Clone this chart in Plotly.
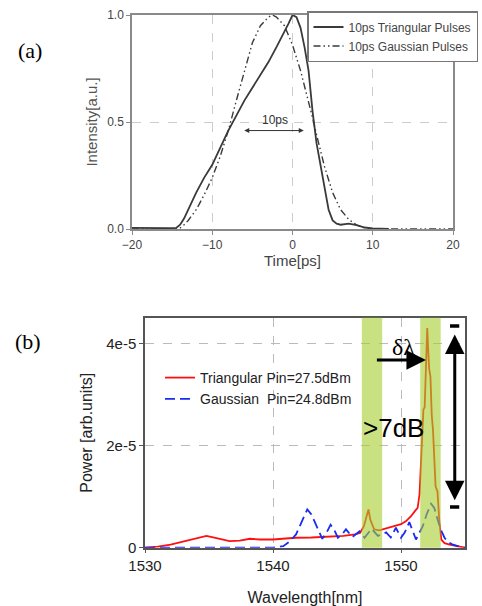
import plotly.graph_objects as go

# ---------------- Panel (a) data ----------------
t_tri = [-20, -17, -15.5, -14.5, -14, -13.5, -13, -12.5, -12, -11, -10, -9, -8, -7, -6, -5, -4, -3, -2, -1,
         -0.5, 0, 0.5, 1, 1.5, 2, 2.5, 3, 3.5, 4, 4.5, 5, 5.5, 6, 7, 8, 9, 10, 11, 12]
i_tri = [0.005, 0.002, 0.004, 0.005, 0.02, 0.05, 0.09, 0.13, 0.17, 0.24, 0.30, 0.38, 0.46, 0.53, 0.60, 0.66,
         0.72, 0.78, 0.85, 0.92, 0.96, 1.0, 0.99, 0.94, 0.85, 0.74, 0.55, 0.40, 0.29, 0.18, 0.09, 0.04, 0.025,
         0.02, 0.025, 0.018, 0.007, 0.003, 0.003, 0.0]

t_gau = [-20, -14.5, -14, -13.5, -13, -12, -11, -10, -9, -8, -7, -6, -5, -4, -3, -2.5, -2, -1, 0, 1, 2,
         2.5, 3, 4, 5, 6, 7, 8, 9, 10, 20]
i_gau = [0.0, 0.0, 0.005, 0.02, 0.04, 0.09, 0.16, 0.24, 0.34, 0.46, 0.60, 0.74, 0.87, 0.95, 0.99, 1.0, 0.99,
         0.95, 0.86, 0.74, 0.60, 0.52, 0.44, 0.29, 0.17, 0.09, 0.045, 0.018, 0.005, 0.0, 0.0]

a_xticks = [-20, -10, 0, 10, 20]
a_yticks = [0.0, 0.5, 1.0]

# ---------------- Panel (b) data ----------------
wl_tri = [1530, 1531, 1532, 1532.7, 1533.5, 1534.2, 1534.8, 1535.5, 1536.6, 1537.4, 1538.2, 1539, 1540,
          1541, 1541.8, 1543, 1544.4, 1545.5, 1546.4, 1546.8, 1547.1, 1547.3, 1547.46, 1547.6, 1547.9,
          1548.3, 1548.6, 1549.1, 1549.6, 1550.0, 1550.4, 1550.8, 1551.1, 1551.3, 1551.45, 1551.55,
          1551.65, 1551.75, 1551.85, 1551.95, 1552.05, 1552.12, 1552.2, 1552.3, 1552.4, 1552.5, 1552.6,
          1552.7, 1552.85, 1553.0, 1553.15, 1553.4, 1553.8, 1554.2, 1554.6, 1555]
p_tri = [0.0, 2e-7, 6e-7, 1.0e-6, 1.5e-6, 2.0e-6, 2.3e-6, 1.9e-6, 1.3e-6, 1.4e-6, 1.75e-6, 1.6e-6, 1.6e-6,
         1.8e-6, 1.95e-6, 2.0e-6, 2.1e-6, 2.3e-6, 2.6e-6, 2.9e-6, 4.2e-6, 6.2e-6, 7.5e-6, 5.5e-6, 3.6e-6,
         3.4e-6, 3.6e-6, 3.9e-6, 4.2e-6, 4.6e-6, 5.2e-6, 6.2e-6, 7.2e-6, 7.8e-6, 1.05e-5, 1.6e-5,
         2.2e-5, 2.7e-5, 2.75e-5, 3.4e-5, 4.3e-5, 3.9e-5, 3.5e-5, 3.35e-5, 2.6e-5, 2.3e-5, 1.6e-5,
         1.2e-5, 1.1e-5, 5.0e-6, 1.6e-6, 9e-7, 6e-7, 4e-7, 1.5e-7, 0.0]

wl_gau = [1530, 1540, 1540.8, 1541.3, 1541.8, 1542.3, 1542.68, 1543.0, 1543.4, 1543.85, 1544.2, 1544.5,
          1544.8, 1545.07, 1545.4, 1545.7, 1546.2, 1546.76, 1547.15, 1547.7, 1548.2, 1548.84, 1549.2,
          1549.6, 1550.0, 1550.3, 1550.65, 1551.17, 1551.7, 1552.0, 1552.35, 1552.6, 1552.86, 1553.1,
          1553.4, 1553.7, 1554.0, 1554.4, 1554.8, 1555]
p_gau = [0.0, 0.0, 3e-7, 1.2e-6, 2.6e-6, 5.2e-6, 7.5e-6, 6.5e-6, 4.2e-6, 1.75e-6, 3.0e-6, 4.5e-6, 3.4e-6,
         1.95e-6, 2.6e-6, 3.6e-6, 2.1e-6, 3.2e-6, 1.95e-6, 3.7e-6, 2.3e-6, 3.0e-6, 2.0e-6, 3.9e-6,
         1.95e-6, 3.0e-6, 5.0e-6, 1.6e-6, 4.2e-6, 6.5e-6, 8.6e-6, 7.8e-6, 5.5e-6, 3.6e-6, 1.95e-6,
         1.1e-6, 6.5e-7, 2.5e-7, 0.0, 0.0]

b_xticks = [1530, 1540, 1550]
b_yticks = [0, 2e-5, 4e-5]
b_yticktext = ["0", "2e-5", "4e-5"]

band_ranges = [(1546.94, 1548.53), (1551.5, 1553.1)]

SANS = "Liberation Sans, Arial, sans-serif"
SERIF = "Liberation Serif, Times New Roman, serif"
W, H = 482, 606

fig = go.Figure()

fig.add_trace(go.Scatter(x=t_tri, y=i_tri, mode="lines", name="10ps Triangular Pulses",
                         line=dict(color="#3a3a3a", width=1.8), xaxis="x", yaxis="y", legend="legend"))
fig.add_trace(go.Scatter(x=t_gau, y=i_gau, mode="lines", name="10ps Gaussian Pulses",
                         line=dict(color="#3a3a3a", width=1.4, dash="7px,3px,1.5px,3px,1.5px,3px"),
                         xaxis="x", yaxis="y", legend="legend"))

fig.add_trace(go.Scatter(x=wl_tri, y=p_tri, mode="lines", name="Triangular Pin=27.5dBm",
                         line=dict(color="#ff1010", width=1.8), xaxis="x2", yaxis="y2", legend="legend2"))
fig.add_trace(go.Scatter(x=wl_gau, y=p_gau, mode="lines", name="Gaussian\u00a0\u00a0Pin=24.8dBm",
                         line=dict(color="#1a2cf0", width=1.8, dash="10px,5px"), xaxis="x2", yaxis="y2",
                         legend="legend2"))

shapes = []
for x0, x1 in band_ranges:
    shapes.append(dict(type="rect", xref="x2", yref="y2 domain", x0=x0, x1=x1, y0=0, y1=1,
                       fillcolor="rgb(165,205,45)", opacity=0.6, line=dict(width=0), layer="above"))
for yv in [4.34e-5, 7.96e-6]:
    shapes.append(dict(type="line", xref="x2", yref="y2", x0=1553.83, x1=1554.55, y0=yv, y1=yv,
                       line=dict(color="black", width=3.5), layer="above"))

annotations = [
    dict(text="(a)", x=30 / W, y=1 - 50 / H, xref="paper", yref="paper", showarrow=False,
         xanchor="center", yanchor="middle", font=dict(family=SERIF, size=22, color="black")),
    dict(text="(b)", x=28 / W, y=1 - 342 / H, xref="paper", yref="paper", showarrow=False,
         xanchor="center", yanchor="middle", font=dict(family=SERIF, size=22, color="black")),
    dict(x=1.4, y=0.46, ax=-6.2, ay=0.46, xref="x", yref="y", axref="x", ayref="y", text="",
         showarrow=True, arrowhead=2, arrowside="end+start", arrowsize=1, arrowwidth=1, arrowcolor="#333"),
    dict(text="10ps", x=-2.2, y=0.51, xref="x", yref="y", showarrow=False,
         font=dict(family=SANS, size=12, color="#333")),
    dict(text=">7dB", x=1549.4, y=2.35e-5, xref="x2", yref="y2", showarrow=False,
         font=dict(family=SANS, size=26, color="black")),
    dict(text="δλ", x=1550.2, y=3.93e-5, xref="x2", yref="y2", showarrow=False,
         font=dict(family=SERIF, size=24, color="black")),
    dict(x=1551.95, y=3.67e-5, ax=1548.0, ay=3.67e-5, xref="x2", yref="y2", axref="x2", ayref="y2",
         text="", showarrow=True, arrowhead=2, arrowsize=1.3, arrowwidth=3, arrowcolor="black"),
    dict(x=1554.2, y=9.3e-6, ax=1554.2, ay=4.2e-5, xref="x2", yref="y2", axref="x2", ayref="y2",
         text="", showarrow=True, arrowhead=2, arrowside="end+start", arrowsize=1.3, arrowwidth=3,
         arrowcolor="black"),
]

fig.update_layout(
    width=W, height=H,
    margin=dict(l=0, r=0, t=0, b=0, autoexpand=False),
    paper_bgcolor="white", plot_bgcolor="white",
    font=dict(family=SANS, color="#333"),
    xaxis=dict(domain=[132 / W, 453 / W], range=[-20, 20], tickvals=a_xticks, automargin=False,
               showline=True, mirror=True, linecolor="#8a8a8a", linewidth=1.5,
               ticks="outside", ticklen=4, tickcolor="#8a8a8a",
               showgrid=True, gridcolor="#cccccc", griddash="dash", gridwidth=1, zeroline=False,
               tickfont=dict(size=12, color="#444"),
               title=dict(text="Time[ps]", font=dict(size=15, color="#444"), standoff=0),
               anchor="y"),
    yaxis=dict(domain=[1 - 229 / H, 1 - 15 / H], range=[0, 1], tickvals=a_yticks, tickformat=".1f",
               automargin=False,
               showline=True, mirror=True, linecolor="#8a8a8a", linewidth=1.5,
               ticks="outside", ticklen=4, tickcolor="#8a8a8a",
               showgrid=True, gridcolor="#cccccc", griddash="dash", gridwidth=1, zeroline=False,
               tickfont=dict(size=12, color="#444"),
               title=dict(text="Intensity[a.u.]", font=dict(size=15, color="#555"), standoff=6),
               anchor="x"),
    xaxis2=dict(domain=[145 / W, 465 / W], range=[1530, 1555], tickvals=b_xticks, automargin=False,
                showline=True, mirror=True, linecolor="#555", linewidth=1.5,
                ticks="outside", ticklen=4, tickcolor="#555",
                showgrid=True, gridcolor="#bbbbbb", griddash="dash", gridwidth=1, zeroline=False,
                tickfont=dict(size=15, color="#222"),
                title=dict(text="Wavelength[nm]", font=dict(size=16, color="#222"), standoff=18),
                anchor="y2"),
    yaxis2=dict(domain=[1 - 547.7 / H, 1 - 317.7 / H], range=[0, 4.5e-5], tickvals=b_yticks,
                ticktext=b_yticktext, automargin=False,
                showline=True, mirror=True, linecolor="#555", linewidth=1.5,
                ticks="outside", ticklen=4, tickcolor="#555",
                showgrid=True, gridcolor="#bbbbbb", griddash="dash", gridwidth=1, zeroline=False,
                tickfont=dict(size=15, color="#222"),
                title=dict(text="Power [arb.units]", font=dict(size=16, color="#222"), standoff=10),
                anchor="x2"),
    legend=dict(x=307 / W, y=1 - 11 / H, xanchor="left", yanchor="top",
                bgcolor="white", bordercolor="#777", borderwidth=1.5,
                font=dict(family=SANS, size=12, color="#444"), tracegroupgap=0),
    legend2=dict(x=160 / W, y=1 - 362 / H, xanchor="left", yanchor="top",
                 bgcolor="rgba(0,0,0,0)", borderwidth=0,
                 font=dict(family=SANS, size=14, color="#222"), tracegroupgap=0),
    shapes=shapes,
    annotations=annotations,
    showlegend=True,
)

fig.write_html("out.html", config={"displayModeBar": False},
               post_script="document.body.style.margin='0';document.body.style.overflow='hidden';")
